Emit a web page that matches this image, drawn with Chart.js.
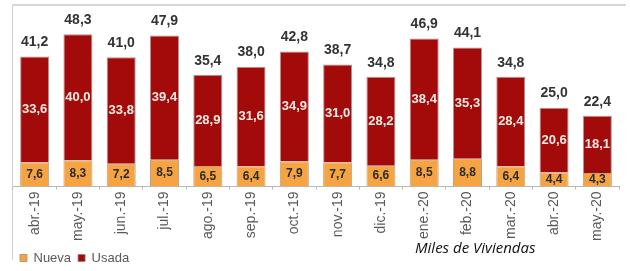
<!DOCTYPE html>
<html>
<head>
<meta charset="utf-8">
<script src="https://cdn.jsdelivr.net/npm/chart.js@4"></script>
<style>
  body { margin: 0; background: #fff; }
  #wrap { position: relative; width: 630px; height: 271px; }
  #frame { position: absolute; left: 12px; top: 4px; width: 613px; height: 254px;
           border-top: 2px solid #d6d6d6; border-left: 1px solid #cfcfcf; }
  canvas { position: absolute; left: 0; top: 0; }
  #unit { position: absolute; left: 415px; top: 237px; font: italic 15px "Open Sans", sans-serif; color: #111; }
</style>
</head>
<body>
<div id="wrap">
  <div id="frame"></div>
  <canvas id="chart" width="630" height="271"></canvas>
  <div id="unit">Miles de Viviendas</div>
</div>
<script>
const months = ['abr.-19', 'may.-19', 'jun.-19', 'jul.-19', 'ago.-19', 'sep.-19', 'oct.-19',
                'nov.-19', 'dic.-19', 'ene.-20', 'feb.-20', 'mar.-20', 'abr.-20', 'may.-20'];
const nueva = [7.6, 8.3, 7.2, 8.5, 6.5, 6.4, 7.9, 7.7, 6.6, 8.5, 8.8, 6.4, 4.4, 4.3];
const usada = [33.6, 40.0, 33.8, 39.4, 28.9, 31.6, 34.9, 31.0, 28.2, 38.4, 35.3, 28.4, 20.6, 18.1];
const totals = [41.2, 48.3, 41.0, 47.9, 35.4, 38.0, 42.8, 38.7, 34.8, 46.9, 44.1, 34.8, 25.0, 22.4];

function fmt(v) {
    return v.toFixed(1).replace('.', ',');
}

// values inside the bars and totals on top
const barLabels = {
    id: 'barLabels',
    afterDatasetsDraw(chart) {
        const ctx = chart.ctx;
        ctx.save();
        ctx.textAlign = 'center';
        ctx.textBaseline = 'middle';
        chart.data.datasets.forEach((ds, i) => {
            const meta = chart.getDatasetMeta(i);
            meta.data.forEach((bar, j) => {
                const y = (bar.y + bar.base) / 2;
                ctx.font = (i === 0 ? 'bold 12px' : 'bold 13px') + ' "Liberation Sans", Arial, sans-serif';
                ctx.fillStyle = i === 0 ? '#2b2b2b' : '#f4ece4';
                ctx.fillText(fmt(ds.data[j]), bar.x, y);
                if (i === 1) {
                    ctx.font = 'bold 14px "Liberation Sans", Arial, sans-serif';
                    ctx.fillStyle = '#333333';
                    ctx.fillText(fmt(totals[j]), bar.x, bar.y - 14);
                }
            });
        });
        ctx.restore();
    }
};

const data = {
    labels: months,
    datasets: [{
            label: 'Nueva',
            data: nueva,
            backgroundColor: '#f6a442',
            borderColor: 'rgba(170,140,110,0.8)',
            borderWidth: 1,
            barPercentage: 0.67,
            categoryPercentage: 1
        }, {
            label: 'Usada',
            data: usada,
            backgroundColor: '#a30b0b',
            borderColor: 'rgba(160,120,120,0.8)',
            borderWidth: 1,
            barPercentage: 0.67,
            categoryPercentage: 1
        }]
};

const config = {
    type: 'bar',
    data: data,
    plugins: [barLabels],
    options: {
        responsive: false,
        animation: false,
        layout: { padding: { top: 13, left: 13, right: 11, bottom: -3.5 } },
        plugins: {
            legend: {
                position: 'bottom',
                align: 'start',
                labels: {
                    boxWidth: 7,
                    boxHeight: 7,
                    padding: 7,
                    color: '#595959',
                    font: { size: 13, family: '"Liberation Sans", Arial, sans-serif' }
                }
            },
            tooltip: { enabled: false }
        },
        scales: {
            x: {
                stacked: true,
                afterFit(scale) { scale.height = 58; },
                border: { display: true, color: '#b8b8b8', width: 1 },
                grid: { drawOnChartArea: false, tickLength: 3, color: '#b8b8b8' },
                ticks: {
                    minRotation: 90,
                    maxRotation: 90,
                    padding: 2,
                    color: '#595959',
                    font: { size: 14, family: '"Liberation Sans", Arial, sans-serif' }
                }
            },
            y: {
                stacked: true,
                display: false,
                min: 0,
                max: 55
            }
        }
    }
};

let ctx = document.getElementById('chart').getContext('2d')
new Chart(ctx, config)
</script>
</body>
</html>
